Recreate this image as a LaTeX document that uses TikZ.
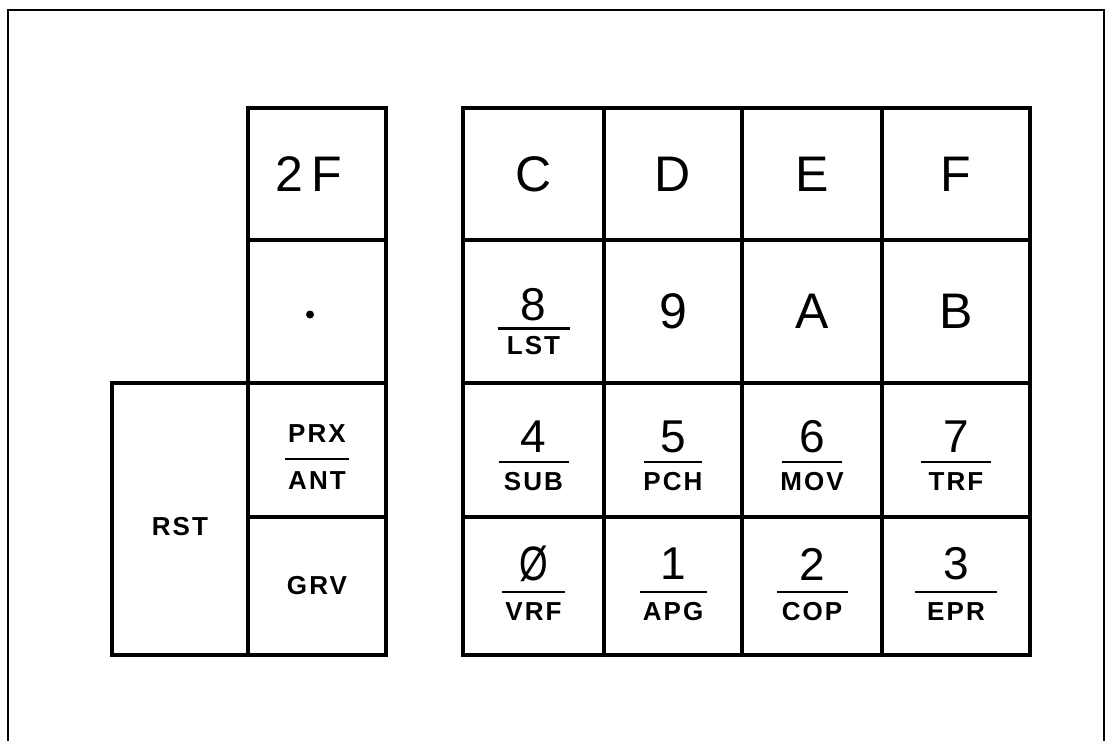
\documentclass[tikz,border=0pt]{standalone}
\usepackage{fontspec}
\setmainfont{Liberation Sans}
\newfontfamily\lblfont[LetterSpace=8]{Liberation Sans}
\usetikzlibrary{calc}
\tikzset{
  keycell/.style={draw, line width=3.8pt, inner sep=0pt},
  bigtxt/.style={inner sep=0pt, font=\fontsize{50}{50}\selectfont},
  digtxt/.style={inner sep=0pt, font=\fontsize{46}{46}\selectfont},
  lbltxt/.style={inner sep=0pt, font=\lblfont\bfseries\fontsize{26}{26}\selectfont},
  fracbar/.style={line width=2.8pt},
  frame/.style={line width=2.2pt}
}
% name, digit, label, digit dy, bar dy, label dy, bar width
\newcommand\keyfrac[7]{%
  \node[digtxt] (#1d) at ($(#1.center)+(0,#4)$) {#2};
  \draw[fracbar] ($(#1.center)+(-#7/2,#5)$) -- ($(#1.center)+(#7/2,#5)$);
  \node[lbltxt] (#1l) at ($(#1.center)+(0,#6)$) {#3};
}
\begin{document}
\begin{tikzpicture}[x=1pt, y=-1pt]
\useasboundingbox (0,0) rectangle (1106,741);
% outer frame (open at bottom)
\draw[frame] (8,745) -- (8,10) -- (1104,10) -- (1104,745);

% left column
\node[keycell, minimum width=138pt, minimum height=132pt] (k2F) at (317,174) {};
\node[bigtxt] at ($(k2F.center)+(-8,0)$) {2\,F};
\node[keycell, minimum width=138pt, minimum height=143pt] (kdot) at (317,311.5) {};
\node[circle, fill, inner sep=0pt, minimum size=8pt] (kdotmark) at ($(kdot.center)+(-7,3)$) {};
\node[keycell, minimum width=138pt, minimum height=134pt] (kPRX) at (317,450) {};
\keyfrac{kPRX}{\bfseries\lblfont\fontsize{26}{26}\selectfont PRX}{ANT}{-16}{9}{31}{64}
\node[keycell, minimum width=138pt, minimum height=138pt] (kGRV) at (317,586) {};
\node[lbltxt] at (kGRV.center) {GRV};
\node[keycell, minimum width=136pt, minimum height=272pt] (kRST) at (180,519) {};
\node[lbltxt] at ($(kRST.center)+(0,8)$) {RST};

% main grid row 1
\node[keycell, minimum width=141pt, minimum height=132pt] (kC) at (533.5,174) {};
\node[keycell, minimum width=138pt, minimum height=132pt] (kD) at (673,174) {};
\node[keycell, minimum width=140pt, minimum height=132pt] (kE) at (812,174) {};
\node[keycell, minimum width=148pt, minimum height=132pt] (kF) at (956,174) {};
\node[bigtxt] at (kC.center) {C};
\node[bigtxt] at (kD.center) {D};
\node[bigtxt] at (kE.center) {E};
\node[bigtxt] at (kF.center) {F};

% row 2
\node[keycell, minimum width=141pt, minimum height=143pt] (k8) at (533.5,311.5) {};
\node[keycell, minimum width=138pt, minimum height=143pt] (k9) at (673,311.5) {};
\node[keycell, minimum width=140pt, minimum height=143pt] (kA) at (812,311.5) {};
\node[keycell, minimum width=148pt, minimum height=143pt] (kB) at (956,311.5) {};
\keyfrac{k8}{8}{LST}{-7}{17}{34}{72}
\node[bigtxt] at (k9.center) {9};
\node[bigtxt] at (kA.center) {A};
\node[bigtxt] at (kB.center) {B};

% row 3
\node[keycell, minimum width=141pt, minimum height=134pt] (k4) at (533.5,450) {};
\node[keycell, minimum width=138pt, minimum height=134pt] (k5) at (673,450) {};
\node[keycell, minimum width=140pt, minimum height=134pt] (k6) at (812,450) {};
\node[keycell, minimum width=148pt, minimum height=134pt] (k7) at (956,450) {};
\keyfrac{k4}{4}{SUB}{-13}{12}{32}{70}
\keyfrac{k5}{5}{PCH}{-13}{12}{32}{58}
\keyfrac{k6}{6}{MOV}{-13}{12}{32}{60}
\keyfrac{k7}{7}{TRF}{-13}{12}{32}{70}

% row 4
\node[keycell, minimum width=141pt, minimum height=138pt] (k0) at (533.5,586) {};
\node[keycell, minimum width=138pt, minimum height=138pt] (k1) at (673,586) {};
\node[keycell, minimum width=140pt, minimum height=138pt] (k2) at (812,586) {};
\node[keycell, minimum width=148pt, minimum height=138pt] (k3) at (956,586) {};
\keyfrac{k0}{\scalebox{0.8}[1.05]{Ø}}{VRF}{-22}{6}{26}{63}
\keyfrac{k1}{1}{APG}{-22}{6}{26}{67}
\keyfrac{k2}{2}{COP}{-22}{6}{26}{71}
\keyfrac{k3}{3}{EPR}{-22}{6}{26}{82}
\end{tikzpicture}
\end{document}
